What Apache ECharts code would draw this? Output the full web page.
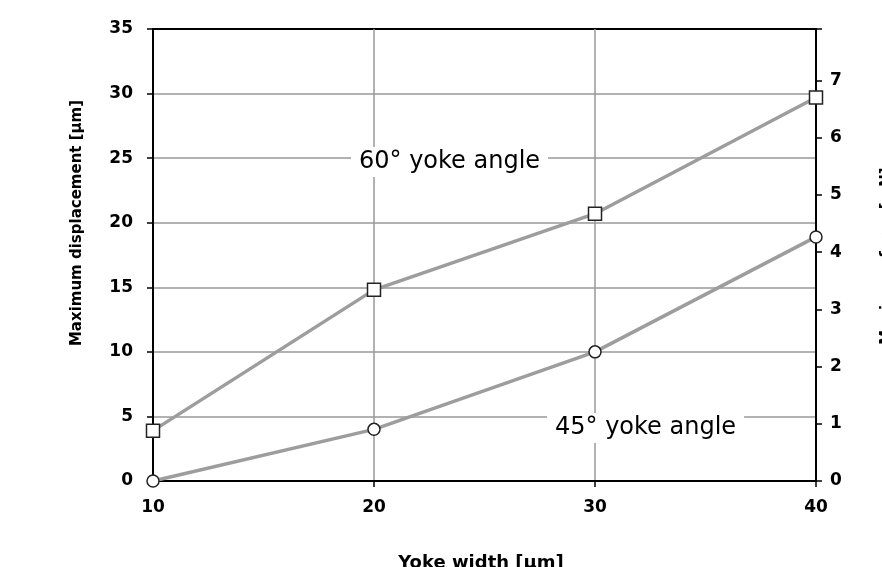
<!DOCTYPE html>
<html>
<head>
<meta charset="utf-8">
<script src="https://cdn.jsdelivr.net/npm/echarts@6/dist/echarts.min.js"></script>
<style>
  html, body { margin: 0; padding: 0; background: #fff; }
  #chart { width: 882px; height: 567px; }
</style>
</head>
<body>
<div id="chart"></div>
<script>
// yoke width [um]
const yokeWidth = [10, 20, 30, 40]
// maximum displacement [um]
const angle60 = [3.9, 14.8, 20.7, 29.7]
const angle45 = [0, 4.0, 10.0, 18.9]
const leftTicks = { min: 0, max: 35, step: 5 }
const rightTicks = { min: 0, max: 7.9, step: 1 }

const chart = echarts.init(document.getElementById('chart'))
const font = "'DejaVu Sans', sans-serif"

const markerStyle = { color: '#fff', borderColor: '#222', borderWidth: 1.5 }
const lineStyle = { color: '#9d9d9d', width: 3.5 }
const labelStyle = { color: '#000', fontFamily: font, fontSize: 17, fontWeight: 'bold' }

chart.setOption({
  animation: false,
  backgroundColor: '#fff',
  grid: {
    left: 153, right: 66, top: 29, bottom: 86,
    show: true, borderColor: '#000', borderWidth: 2, backgroundColor: 'transparent'
  },
  xAxis: {
    type: 'value',
    min: 10, max: 40, interval: 10,
    axisLine: { lineStyle: { color: '#000', width: 2 } },
    axisTick: { show: true, length: 6, lineStyle: { color: '#000', width: 1.5 } },
    axisLabel: { ...labelStyle, margin: 18 },
    splitLine: { showMinLine: false, showMaxLine: false, lineStyle: { color: '#999', width: 1.5 } }
  },
  yAxis: [
    {
      type: 'value',
      min: leftTicks.min, max: leftTicks.max, interval: leftTicks.step,
      axisLine: { show: true, lineStyle: { color: '#000', width: 2 } },
      axisTick: { show: true, length: 6, lineStyle: { color: '#000', width: 1.5 } },
      axisLabel: { ...labelStyle, margin: 20 },
      splitLine: { showMinLine: false, showMaxLine: false, lineStyle: { color: '#999', width: 1.5 } }
    },
    {
      type: 'value',
      position: 'right',
      min: rightTicks.min, max: rightTicks.max, interval: rightTicks.step,
      axisLine: { show: true, lineStyle: { color: '#000', width: 2 } },
      axisTick: { show: true, length: 6, lineStyle: { color: '#000', width: 1.5 } },
      axisLabel: {
        ...labelStyle, margin: 14,
        formatter: v => (Number.isInteger(v) ? String(v) : '')
      },
      splitLine: { show: false }
    }
  ],
  series: [
    {
      name: '60° yoke angle',
      type: 'line',
      data: yokeWidth.map((x, i) => [x, angle60[i]]),
      symbol: 'rect', symbolSize: 13,
      lineStyle, itemStyle: markerStyle,
      z: 3
    },
    {
      name: '45° yoke angle',
      type: 'line',
      data: yokeWidth.map((x, i) => [x, angle45[i]]),
      symbol: 'circle', symbolSize: 12,
      lineStyle, itemStyle: markerStyle,
      z: 3
    }
  ],
  graphic: [
    {
      type: 'text', left: 351, top: 147, z: 10,
      style: {
        text: '60° yoke angle', font: "24px 'DejaVu Sans', sans-serif", fill: '#000',
        backgroundColor: '#fff', padding: [3, 8]
      }
    },
    {
      type: 'text', left: 547, top: 413, z: 10,
      style: {
        text: '45° yoke angle', font: "24px 'DejaVu Sans', sans-serif", fill: '#000',
        backgroundColor: '#fff', padding: [3, 8]
      }
    },
    {
      type: 'text', x: 77, y: 223, rotation: Math.PI / 2, z: 10,
      style: {
        text: 'Maximum displacement [μm]', font: "bold 15px 'DejaVu Sans', sans-serif",
        fill: '#000', align: 'center', verticalAlign: 'middle'
      }
    },
    {
      type: 'text', x: 887, y: 256, rotation: Math.PI / 2, z: 10,
      style: {
        text: 'Maximum force [mN]', font: "bold 15px 'DejaVu Sans', sans-serif",
        fill: '#000', align: 'center', verticalAlign: 'middle'
      }
    },
    {
      type: 'text', x: 481, y: 563, z: 10,
      style: {
        text: 'Yoke width [μm]', font: "bold 18px 'DejaVu Sans', sans-serif",
        fill: '#000', align: 'center', verticalAlign: 'middle'
      }
    }
  ]
})
</script>
</body>
</html>
